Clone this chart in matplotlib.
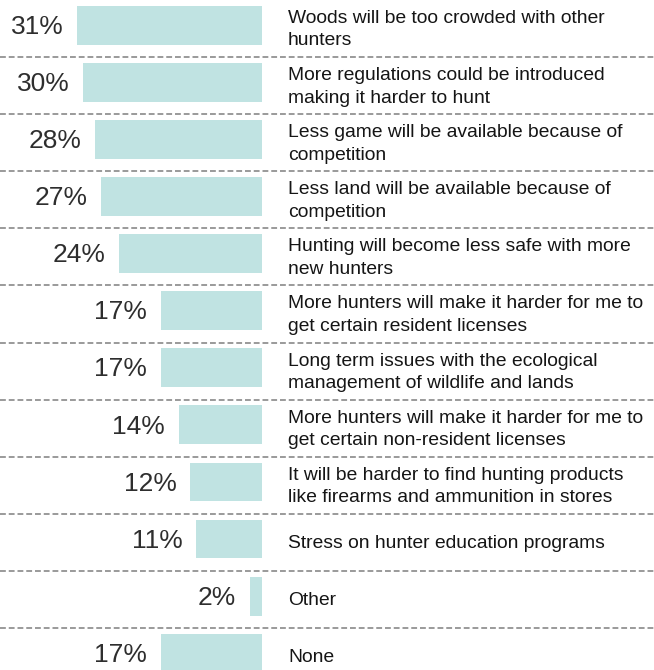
import matplotlib.pyplot as plt

plt.rcParams['font.family'] = ['Liberation Sans', 'DejaVu Sans']

concerns = [
    "Woods will be too crowded with other\nhunters",
    "More regulations could be introduced\nmaking it harder to hunt",
    "Less game will be available because of\ncompetition",
    "Less land will be available because of\ncompetition",
    "Hunting will become less safe with more\nnew hunters",
    "More hunters will make it harder for me to\nget certain resident licenses",
    "Long term issues with the ecological\nmanagement of wildlife and lands",
    "More hunters will make it harder for me to\nget certain non-resident licenses",
    "It will be harder to find hunting products\nlike firearms and ammunition in stores",
    "Stress on hunter education programs",
    "Other",
    "None",
]
pct = [31, 30, 28, 27, 24, 17, 17, 14, 12, 11, 2, 17]

fig = plt.figure(figsize=(6.54, 6.70), dpi=100)
ax = fig.add_axes([0, 0, 1, 1])

rows = list(range(len(pct)))
# bars grow leftwards from 0, so the x axis runs backwards
ax.barh([r - 0.06 for r in rows], pct, height=0.68, color='#c0e3e2')

for r, v, txt in zip(rows, pct, concerns):
    ax.text(v + 2.3, r - 0.03, f"{v}%", ha='right', va='center',
            fontsize=19, color='#2e2e2e')
    ax.text(-4.4, r + 0.02, txt, ha='left', va='center', fontsize=13.9,
            color='#151515', linespacing=1.42)

for r in rows[:-1]:
    ax.axhline(r + 0.5, color='#9a9a9a', lw=1.4, ls=(0, (3, 1.5)))

ax.set_xlim(44.0, -65.9)
ax.set_ylim(-0.5 + 670 / 57.1, -0.5)
ax.axis('off')

fig.savefig('out.png', dpi=100)
